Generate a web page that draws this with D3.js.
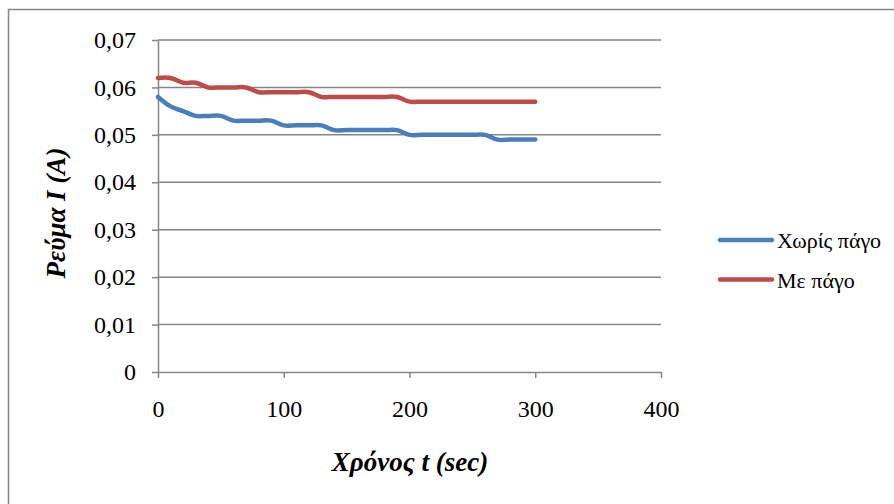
<!DOCTYPE html>
<html>
<head>
<meta charset="utf-8">
<script src="https://cdn.jsdelivr.net/npm/d3@7"></script>
<style>
  html, body { margin: 0; padding: 0; background: #fff; }
  svg { display: block; }
  #chart text { font-family: "Liberation Serif", Tinos, "Times New Roman", Times, serif !important; }
</style>
</head>
<body>
<svg id="chart" width="894" height="504"></svg>
<script>
// Time in seconds
const times = [0, 10, 20, 30, 40, 50, 60, 70, 80, 90, 100, 110, 120, 130, 140, 150,
               160, 170, 180, 190, 200, 210, 220, 230, 240, 250, 260, 270, 280, 290, 300];
// Current without ice
const noIce = [0.058, 0.056, 0.055, 0.054, 0.054, 0.054, 0.053, 0.053, 0.053, 0.053, 0.052,
               0.052, 0.052, 0.052, 0.051, 0.051, 0.051, 0.051, 0.051, 0.051, 0.050,
               0.050, 0.050, 0.050, 0.050, 0.050, 0.050, 0.049, 0.049, 0.049, 0.049];
// Current with ice
const withIce = [0.062, 0.062, 0.061, 0.061, 0.060, 0.060, 0.060, 0.060, 0.059, 0.059, 0.059,
                 0.059, 0.059, 0.058, 0.058, 0.058, 0.058, 0.058, 0.058, 0.058, 0.057,
                 0.057, 0.057, 0.057, 0.057, 0.057, 0.057, 0.057, 0.057, 0.057, 0.057];
const seriesNames = ["Χωρίς πάγο", "Με πάγο"];
const seriesColors = ["#4A7EBB", "#BE4B48"];
const xTicks = [0, 100, 200, 300, 400];
const yTicks = [0, 0.01, 0.02, 0.03, 0.04, 0.05, 0.06, 0.07];

const svg = d3.select("#chart");

// Outer frame
svg.append("rect")
  .attr("x", 8.5).attr("y", 9.5)
  .attr("width", 900).attr("height", 520)
  .attr("fill", "none").attr("stroke", "#868686").attr("stroke-width", 1.5);

const x = d3.scaleLinear().domain([0, 400]).range([158, 661]);
const y = d3.scaleLinear().domain([0, 0.07]).range([372, 40]);

// Horizontal gridlines
svg.append("g").selectAll("line")
  .data(yTicks.filter(d => d > 0))
  .join("line")
  .attr("x1", x(0)).attr("x2", x(400))
  .attr("y1", d => y(d)).attr("y2", d => y(d))
  .attr("stroke", "#868686").attr("stroke-width", 1.5);

const fmt = d => d === 0 ? "0" : d3.format(".2f")(d).replace(".", ",");

// Y axis
const yAxis = svg.append("g")
  .attr("transform", `translate(${x(0)},0)`)
  .call(d3.axisLeft(y).tickValues(yTicks).tickFormat(fmt).tickSizeInner(6).tickSizeOuter(0).tickPadding(16));
// X axis
const xAxis = svg.append("g")
  .attr("transform", `translate(0,${y(0)})`)
  .call(d3.axisBottom(x).tickValues(xTicks).tickFormat(d3.format("d")).tickSizeInner(6).tickSizeOuter(0).tickPadding(22));

[yAxis, xAxis].forEach(g => {
  g.attr("font-family", null).attr("font-size", null);
  g.select(".domain").attr("stroke", "#868686").attr("stroke-width", 1.5);
  g.selectAll(".tick line").attr("stroke", "#868686").attr("stroke-width", 1.5);
  g.selectAll(".tick text")
    .style("font-size", "24px").attr("fill", "#000");
});

// Series lines
const line = d3.line()
  .x((d, i) => x(times[i]))
  .y(d => y(d))
  .curve(d3.curveCardinal.tension(0));

[noIce, withIce].forEach((vals, k) => {
  svg.append("path")
    .datum(vals)
    .attr("d", line)
    .attr("fill", "none")
    .attr("stroke", seriesColors[k])
    .attr("stroke-width", 4.5)
    .attr("stroke-linecap", "round")
    .attr("stroke-linejoin", "round");
});

// Axis titles
svg.append("text")
  .attr("x", 410).attr("y", 471)
  .attr("text-anchor", "middle")
  .style("font-size", "27px").style("font-weight", "bold").style("font-style", "italic")
  .text("Χρόνος t (sec)");

svg.append("text")
  .attr("transform", "translate(65,213) rotate(-90)")
  .attr("text-anchor", "middle")
  .style("font-size", "27px").style("font-weight", "bold").style("font-style", "italic")
  .text("Ρεύμα I (A)");

// Legend
const legend = svg.append("g");
seriesNames.forEach((name, k) => {
  const ly = 240 + k * 39.5;
  legend.append("line")
    .attr("x1", 720).attr("x2", 772)
    .attr("y1", ly).attr("y2", ly)
    .attr("stroke", seriesColors[k]).attr("stroke-width", 4.5)
    .attr("stroke-linecap", "round");
  legend.append("text")
    .attr("x", 777).attr("y", ly + 8)
    .style("font-size", "22px")
    .text(name);
});
</script>
</body>
</html>
